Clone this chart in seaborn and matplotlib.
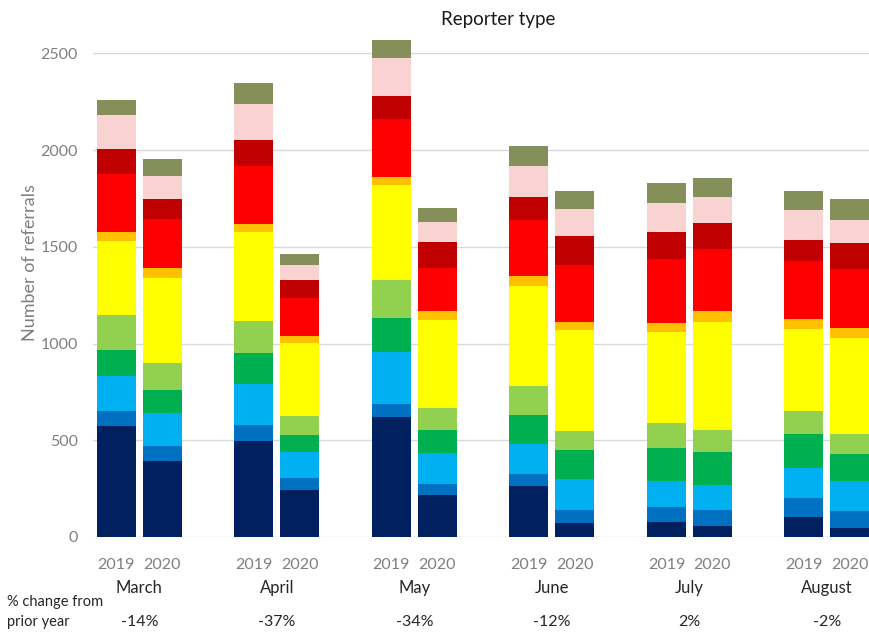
import numpy as np
import matplotlib
matplotlib.use("Agg")
import matplotlib.pyplot as plt
import matplotlib.transforms as mtransforms
import seaborn as sns

# data: one value per bar, bars ordered Mar 2019, Mar 2020, Apr 2019, ...
months = ['March', 'April', 'May', 'June', 'July', 'August']
years = ['2019', '2020']
pct_change = ['-14%', '-37%', '-34%', '-12%', '2%', '-2%']

navy = [575, 391, 494, 244, 620, 215, 262, 72, 76, 55, 103, 46]
blue = [74, 77, 86, 61, 67, 60, 63, 69, 79, 86, 98, 90]
light_blue = [181, 173, 212, 132, 269, 159, 157, 160, 136, 129, 155, 152]
green = [138, 120, 158, 88, 175, 117, 150, 150, 169, 169, 176, 141]
light_green = [177, 138, 167, 102, 195, 115, 150, 95, 129, 115, 121, 103]
yellow = [387, 439, 457, 375, 491, 457, 516, 525, 470, 557, 421, 496]
orange = [42, 52, 45, 38, 46, 43, 52, 40, 46, 58, 52, 52]
red = [303, 254, 299, 195, 296, 224, 289, 296, 331, 322, 298, 304]
dark_red = [129, 102, 134, 94, 121, 137, 117, 150, 141, 131, 112, 135]
pink = [177, 122, 186, 78, 194, 100, 164, 139, 148, 133, 155, 120]
olive = [76, 86, 111, 57, 95, 73, 101, 90, 104, 103, 95, 109]

segments = [navy, blue, light_blue, green, light_green, yellow,
            orange, red, dark_red, pink, olive]
colors = ['#002060', '#0070C0', '#00B0F0', '#00B050', '#92D050', '#FFFF00',
          '#FFC000', '#FF0000', '#C00000', '#F8D3D1', '#858F5A']

sns.set_theme(style='white')
plt.rcParams['font.family'] = ['Lato', 'DejaVu Sans']

# bar positions: two bars per month, a gap between months
xpos = np.array([3 * i + j for i in range(len(months)) for j in range(2)], dtype=float)

fig = plt.figure(figsize=(8.69, 6.33), dpi=100)
ax = fig.add_axes([0.107, 0.1517, 0.893, 0.8099])

cum = np.cumsum(np.array(segments), axis=0)
# draw from the top of the stack down so each layer covers the ones above it
for k in range(len(segments) - 1, -1, -1):
    sns.barplot(x=xpos, y=cum[k], color=colors[k], width=0.85, native_scale=True,
                saturation=1, linewidth=0, errorbar=None, ax=ax)

ax.set_xlim(-0.51, 16.42)
ax.set_ylim(0, 2650)
ax.set_yticks([0, 500, 1000, 1500, 2000, 2500])
ax.set_xticks(xpos)
ax.set_xticklabels(years * len(months))
ax.tick_params(axis='x', length=0, pad=15, labelsize=11.5, labelcolor='#7f7f7f')
ax.tick_params(axis='y', length=0, pad=11, labelsize=11.5, labelcolor='#7f7f7f')
ax.set_xlabel('')
ax.set_ylabel('Number of referrals', fontsize=13, color='#7f7f7f')
ax.yaxis.set_label_coords(-0.071, 0.536)
ax.grid(axis='y', color='#d9d9d9', linewidth=1)
ax.set_axisbelow(True)
for s in ax.spines.values():
    s.set_visible(False)

fig.text(0.573, 1 - 19 / 633, 'Reporter type', ha='center', va='center',
         fontsize=13.5, color='#1a1a1a')

trans = mtransforms.blended_transform_factory(ax.transData, fig.transFigure)
for i, m in enumerate(months):
    ax.text(3 * i + 0.5, 1 - 588 / 633, m, transform=trans, ha='center', va='center',
            fontsize=12, color='#262626')
    ax.text(3 * i + 0.5, 1 - 622 / 633, pct_change[i], transform=trans, ha='center',
            va='center', fontsize=11.5, color='#262626')

fig.text(7 / 869, 1 - 602 / 633, '% change from', ha='left', va='center',
         fontsize=10.5, color='#262626')
fig.text(7 / 869, 1 - 622 / 633, 'prior year', ha='left', va='center',
         fontsize=10.5, color='#262626')

fig.savefig('out.png', dpi=100)
